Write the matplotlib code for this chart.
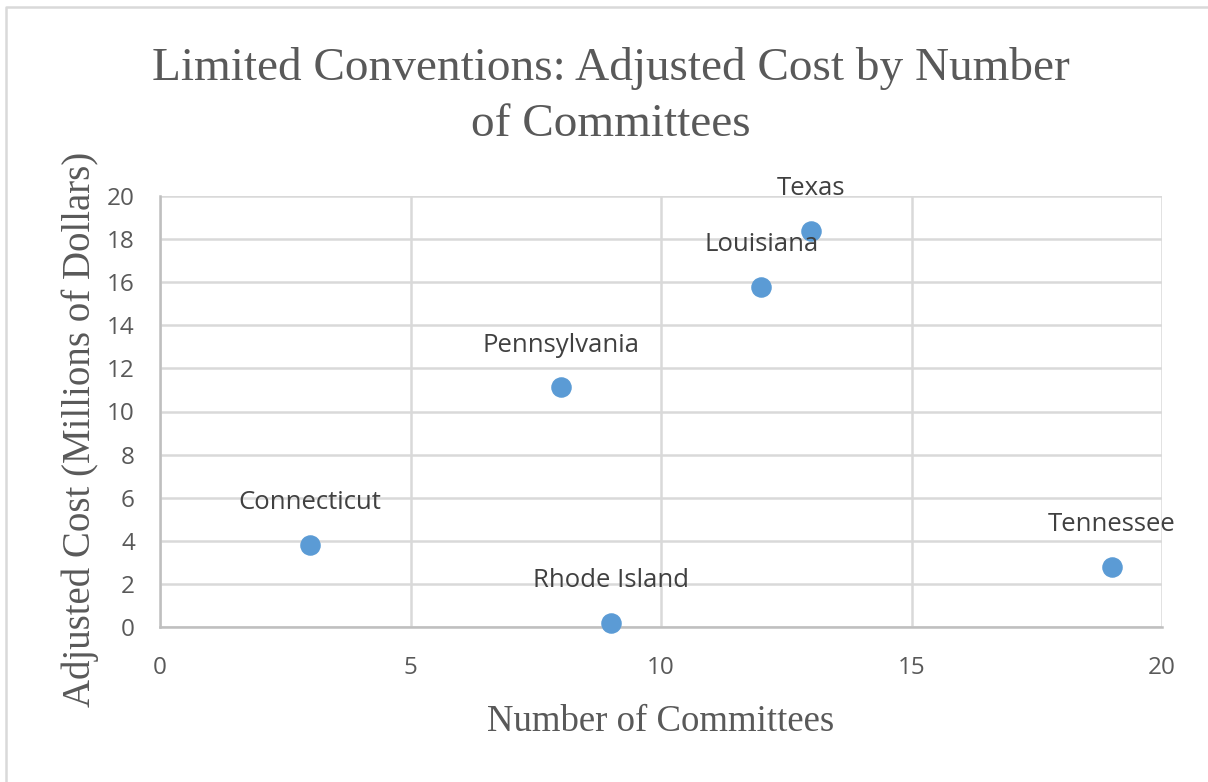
import matplotlib
matplotlib.use("Agg")
import matplotlib.pyplot as plt
from matplotlib.lines import Line2D

states = ["Connecticut", "Rhode Island", "Pennsylvania", "Louisiana", "Texas", "Tennessee"]
committees = [3, 9, 8, 12, 13, 19]
cost = [3.8, 0.18, 11.12, 15.77, 18.37, 2.78]

x_ticks = [0, 5, 10, 15, 20]
y_ticks = [0, 2, 4, 6, 8, 10, 12, 14, 16, 18, 20]

W, H = 1208, 782
fig = plt.figure(figsize=(W / 100, H / 100), dpi=100)
# outer chart border (only top and left visible in the reference crop)
fig.lines.append(Line2D([6 / W, 6 / W, 1.0], [0.0, 1 - 7 / H, 1 - 7 / H],
                        transform=fig.transFigure, color="#d9d9d9", linewidth=1.8))

ax = fig.add_axes([160 / W, 1 - 627 / H, (1162 - 160) / W, (627 - 196) / H])
ax.set_xlim(0, 20)
ax.set_ylim(0, 20)
ax.set_xticks(x_ticks)
ax.set_yticks(y_ticks)
ax.grid(True, color="#d9d9d9", linewidth=1.8)
ax.set_axisbelow(True)
for s in ["top", "right"]:
    ax.spines[s].set_visible(False)
for s in ["left", "bottom"]:
    ax.spines[s].set_color("#bfbfbf")
    ax.spines[s].set_linewidth(1.8)
ax.tick_params(length=0, labelsize=17.5, labelcolor="#595959")
for lab in ax.get_xticklabels() + ax.get_yticklabels():
    lab.set_fontfamily("Open Sans")
ax.tick_params(axis="x", pad=21)
ax.tick_params(axis="y", pad=18)

ax.scatter(committees, cost, s=190, color="#5b9bd5", zorder=3, clip_on=False)
for name, xv, yv in zip(states, committees, cost):
    ax.annotate(name, (xv, yv), xytext=(0, 30.5), textcoords="offset points",
                ha="center", va="center", fontsize=18.5, color="#404040",
                fontfamily="Open Sans", zorder=4, annotation_clip=False)

fig.text(611 / W, 1 - 68 / H, "Limited Conventions: Adjusted Cost by Number",
         ha="center", va="center", fontsize=34, color="#595959", fontfamily="Liberation Serif")
fig.text(611 / W, 1 - 125 / H, "of Committees",
         ha="center", va="center", fontsize=34, color="#595959", fontfamily="Liberation Serif")
fig.text(661 / W, 1 - 722 / H, "Number of Committees", ha="center", va="center",
         fontsize=26.5, color="#595959", fontfamily="Liberation Serif")
fig.text(80 / W, 1 - 429 / H, "Adjusted Cost (Millions of Dollars)", ha="center", va="center",
         rotation=90, fontsize=28, color="#595959", fontfamily="Liberation Serif")

fig.savefig("out.png", dpi=100)
